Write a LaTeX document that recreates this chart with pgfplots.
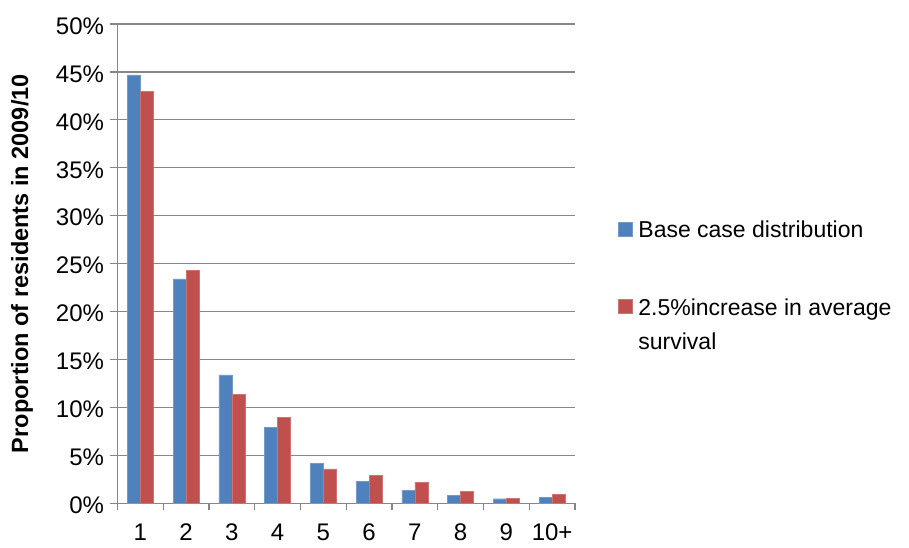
\documentclass[border=0pt]{standalone}
\usepackage{pgfplots}
\pgfplotsset{compat=1.18}
\usepackage{fontspec}
\setmainfont{Liberation Sans}
\definecolor{basecol}{HTML}{4F81BD}
\definecolor{survcol}{HTML}{C0504D}
\definecolor{gridgray}{HTML}{868686}

\pgfplotstableread{
x base survival
0 44.7 42.95
1 23.4 24.3
2 13.4 11.4
3 7.9  9.0
4 4.2  3.6
5 2.3  2.95
6 1.35 2.2
7 0.83 1.28
8 0.48 0.55
9 0.62 0.9
}\residents

\begin{document}
\begin{tikzpicture}
\useasboundingbox (-117.5pt,-43.7pt) rectangle (791.5pt,503.3pt);
\begin{axis}[
  scale only axis,
  width=457.5pt, height=479.3pt,
  anchor=south west, at={(0pt,0pt)},
  ybar, bar width=13pt,
  xmin=-0.5, xmax=9.5,
  ymin=0, ymax=50,
  axis x line*=bottom, axis y line*=left,
  axis line style={gridgray, line width=1.2pt, -},
  ymajorgrids, grid style={gridgray, line width=1.2pt},
  xtick={0,...,9},
  xticklabels={1,2,3,4,5,6,7,8,9,10+},
  minor xtick={-0.5,0.5,...,9.5},
  major x tick style={draw=none},
  minor x tick style={gridgray, line width=1.2pt},
  ytick={0,5,...,50},
  y tick style={gridgray, line width=1.2pt},
  tick align=outside,
  major tick length=7pt, minor tick length=7pt,
  yticklabel={\pgfmathprintnumber{\tick}\%},
  /pgf/number format/assume math mode=true,
  tick label style={font=\fontsize{24}{28}\selectfont, text=black},
  xticklabel style={yshift=-12pt, inner sep=1pt},
  yticklabel style={xshift=-3pt, yshift=-2pt},
  ylabel={\bfseries Proportion of residents in 2009/10},
  ylabel style={font=\fontsize{23.5}{28}\selectfont,
    at={(axis description cs:-0.2087,0.5)}, anchor=center},
  legend style={
    at={(axis description cs:1.094,0.593)}, anchor=north west,
    draw=none, fill=none, inner sep=0pt, outer sep=0pt,
    font=\fontsize{23}{34}\selectfont,
    row sep=48pt, column sep=4pt,
    cells={anchor=base west},
  },
  legend image code/.code={\fill[#1] (0pt,2pt) rectangle (14pt,16pt);},
]
\addplot[fill=basecol, draw=basecol!80!white, line width=0.4pt, bar shift=-6.5pt]
  table[x=x, y=base] {\residents};
\addplot[fill=survcol, draw=survcol!80!white, line width=0.4pt, bar shift=6.5pt]
  table[x=x, y=survival] {\residents};
\legend{Base case distribution,
  {\begin{tabular}[t]{@{}l@{}}2.5\%increase in average\\survival\end{tabular}}}
\end{axis}
\end{tikzpicture}
\end{document}
